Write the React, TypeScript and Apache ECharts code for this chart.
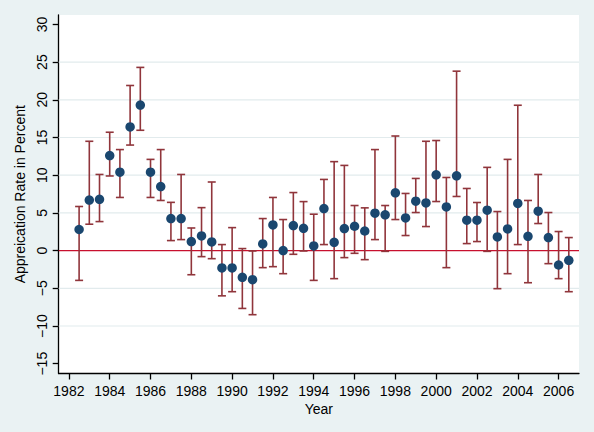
import React, { useEffect, useRef } from "react";
import * as echarts from "echarts";

const years = [
  1982.5, 1983, 1983.5, 1984, 1984.5, 1985, 1985.5, 1986, 1986.5, 1987,
  1987.5, 1988, 1988.5, 1989, 1989.5, 1990, 1990.5, 1991, 1991.5, 1992,
  1992.5, 1993, 1993.5, 1994, 1994.5, 1995, 1995.5, 1996, 1996.5, 1997,
  1997.5, 1998, 1998.5, 1999, 1999.5, 2000, 2000.5, 2001, 2001.5, 2002,
  2002.5, 2003, 2003.5, 2004, 2004.5, 2005, 2005.5, 2006, 2006.5,
];

const rates = [
  2.8, 6.7, 6.8, 12.6, 10.4, 16.4, 19.3, 10.4, 8.5, 4.25,
  4.25, 1.2, 1.95, 1.15, -2.3, -2.3, -3.55, -3.86, 0.88, 3.4,
  0.0, 3.32, 2.96, 0.62, 5.58, 1.1, 2.92, 3.23, 2.6, 4.96,
  4.74, 7.66, 4.34, 6.56, 6.33, 10.05, 5.8, 9.92, 4.03, 4.03,
  5.36, 1.81, 2.87, 6.25, 1.9, 5.23, 1.73, -1.91, -1.29,
];

const upper = [
  5.85, 14.5, 10.1, 15.7, 13.4, 21.9, 24.3, 12.1, 13.4, 6.4,
  10.1, 3.0, 5.7, 9.1, 0.8, 3.05, 0.27, -0.05, 4.25, 7.05,
  4.12, 7.7, 6.5, 4.83, 9.44, 11.8, 11.3, 5.98, 5.67, 13.4,
  5.98, 15.2, 7.58, 9.57, 14.5, 14.6, 9.7, 23.8, 8.24, 6.38,
  11.04, 5.18, 12.1, 19.28, 6.65, 10.1, 5.05, 2.53, 1.73,
];

const lower = [
  -3.95, 3.5, 3.85, 9.9, 7.05, 14.0, 15.96, 7.05, 6.65, 1.33,
  1.46, -3.2, -0.8, -1.07, -6.0, -5.45, -7.67, -8.5, -2.26, -2.13,
  -3.06, -0.49, -0.05, -3.95, 0.8, -3.72, -0.93, -0.36, -1.2, 1.46,
  -0.1, 4.12, 2.0, 5.05, 3.19, 6.51, -2.26, 7.18, 0.93, 1.2,
  -0.1, -5.05, -3.06, 0.8, -4.26, 3.59, -1.73, -3.72, -5.45,
];

const xTicks = [1982, 1984, 1986, 1988, 1990, 1992, 1994, 1996, 1998, 2000, 2002, 2004, 2006];
const yTicks = [-15, -10, -5, 0, 5, 10, 15, 20, 25, 30];
const gridValues = [-10, -5, 5, 10, 15, 20, 25];
const zeroLine = [0];

const BG = "#eaf2f3";
const NAVY = "#1a476f";
const MAROON = "#90353b";
const FONT = "Liberation Sans, Arial, sans-serif";

function hLineSeries(values: number[], color: string, width: number, z: number) {
  return {
    type: "custom",
    z,
    silent: true,
    data: values.map((v) => [v]),
    encode: { y: 0 },
    renderItem: (params: any, api: any) => {
      const cs = params.coordSys;
      const p = api.coord([cs.x === undefined ? 0 : 1990, api.value(0)]);
      const y = p[1];
      return {
        type: "line",
        shape: { x1: cs.x, y1: y, x2: cs.x + cs.width, y2: y },
        style: { stroke: color, lineWidth: width },
      };
    },
  };
}

export default function App() {
  const ref = useRef<HTMLDivElement>(null);

  useEffect(() => {
    if (!ref.current) return;
    const chart = echarts.init(ref.current, undefined, { renderer: "svg" });
    const fmt = (v: number) => String(v).replace("-", "\u2212");
    chart.setOption({
      animation: false,
      backgroundColor: BG,
      grid: {
        left: 58.7,
        right: 15,
        top: 15,
        bottom: 58.5,
        show: true,
        backgroundColor: "#ffffff",
        borderWidth: 0,
      },
      xAxis: {
        type: "value",
        min: 1981.5,
        max: 2007,
        name: "Year",
        nameLocation: "middle",
        nameGap: 27,
        nameTextStyle: { color: "#000", fontSize: 14, fontFamily: FONT },
        axisLine: { show: true, onZero: false, lineStyle: { color: "#000", width: 1.3 } },
        axisTick: { show: true, customValues: xTicks, length: 6, lineStyle: { color: "#000", width: 1.3 } },
        axisLabel: {
          customValues: xTicks,
          color: "#000",
          fontSize: 14,
          fontFamily: FONT,
          margin: 10,
          formatter: (v: number) => String(v),
        },
        splitLine: { show: false },
      },
      yAxis: {
        type: "value",
        min: -16.3,
        max: 31.25,
        name: "Appreication Rate in Percent",
        nameLocation: "middle",
        nameGap: 27,
        nameTextStyle: { color: "#000", fontSize: 14, fontFamily: FONT },
        axisLine: { show: true, onZero: false, lineStyle: { color: "#000", width: 1.3 } },
        axisTick: { show: true, customValues: yTicks, length: 6, lineStyle: { color: "#000", width: 1.3 } },
        axisLabel: {
          customValues: yTicks,
          rotate: 90,
          color: "#000",
          fontSize: 14,
          fontFamily: FONT,
          margin: 10,
          formatter: fmt,
        },
        splitLine: { show: false },
      },
      series: [
        hLineSeries(gridValues, "#e2ebed", 1.2, 1),
        hLineSeries(zeroLine, "#c8102e", 1.3, 2),
        {
          type: "custom",
          z: 3,
          silent: true,
          data: years.map((y, i) => [y, lower[i], upper[i]]),
          renderItem: (params: any, api: any) => {
            const x = api.value(0);
            const lo = api.coord([x, api.value(1)]);
            const hi = api.coord([x, api.value(2)]);
            const cap = 4;
            const style = { stroke: MAROON, lineWidth: 1.6, fill: "none" };
            return {
              type: "group",
              children: [
                { type: "line", shape: { x1: lo[0], y1: lo[1], x2: hi[0], y2: hi[1] }, style },
                { type: "line", shape: { x1: hi[0] - cap, y1: hi[1], x2: hi[0] + cap, y2: hi[1] }, style },
                { type: "line", shape: { x1: lo[0] - cap, y1: lo[1], x2: lo[0] + cap, y2: lo[1] }, style },
              ],
            };
          },
        },
        {
          type: "scatter",
          z: 4,
          symbol: "circle",
          symbolSize: 9.5,
          itemStyle: { color: NAVY, opacity: 1 },
          data: years.map((y, i) => [y, rates[i]]),
        },
      ],
    });
    return () => chart.dispose();
  }, []);

  return (
    <div
      ref={ref}
      style={{ position: "fixed", left: 0, top: 0, width: 594, height: 432 }}
    />
  );
}
